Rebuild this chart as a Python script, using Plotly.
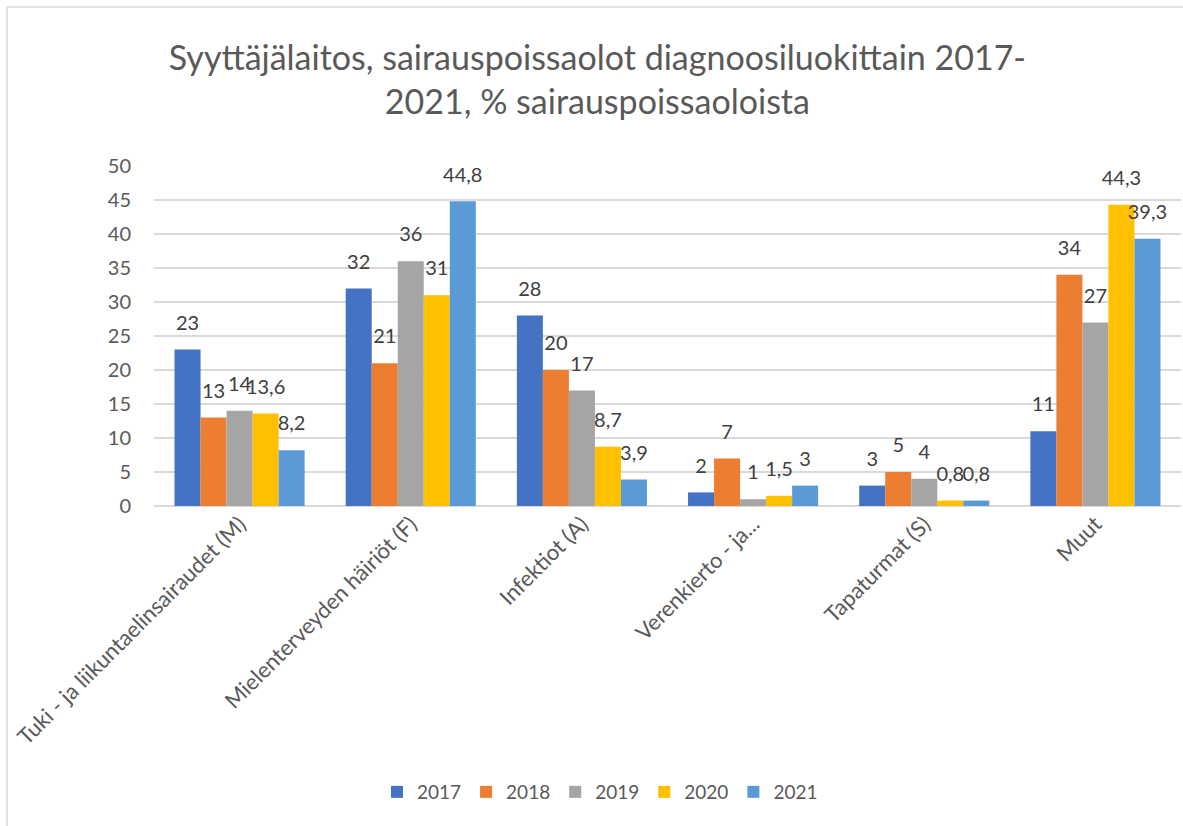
import plotly.graph_objects as go

categories = [
    "Tuki - ja liikuntaelinsairaudet (M)",
    "Mielenterveyden häiriöt (F)",
    "Infektiot (A)",
    "Verenkierto - ja...",
    "Tapaturmat (S)",
    "Muut",
]
years = ["2017", "2018", "2019", "2020", "2021"]
v2017 = [23, 32, 28, 2, 3, 11]
v2018 = [13, 21, 20, 7, 5, 34]
v2019 = [14, 36, 17, 1, 4, 27]
v2020 = [13.6, 31, 8.7, 1.5, 0.8, 44.3]
v2021 = [8.2, 44.8, 3.9, 3, 0.8, 39.3]
series = [v2017, v2018, v2019, v2020, v2021]
colors = ["#4472C4", "#ED7D31", "#A5A5A5", "#FFC000", "#5B9BD5"]

FONT = "Lato"
W, H = 1183, 826
L, R, T, B = 154, 2, 166, 320
GAP = 0.24

fig = go.Figure()
for name, vals, col in zip(years, series, colors):
    fig.add_trace(go.Bar(
        name=name, x=categories, y=vals, marker_color=col,
        marker_line_width=0, offsetgroup=name,
    ))
for name, vals in zip(years, series):
    fig.add_trace(go.Scatter(
        x=categories, y=vals, mode="markers+text", offsetgroup=name,
        text=[f"{v:g}".replace(".", ",") for v in vals],
        textposition="top center", cliponaxis=False, showlegend=False,
        marker=dict(size=22, opacity=0), hoverinfo="skip",
        textfont=dict(family=FONT, size=20, color="#404040"),
    ))

pw = W - L - R
ph = H - T - B

def px(x):
    return (x - L) / pw

def py(y):
    return (H - B - y) / ph

fig.update_layout(
    width=W, height=H,
    margin=dict(l=L, r=R, t=T, b=B, autoexpand=False),
    paper_bgcolor="white", plot_bgcolor="white",
    barmode="group", bargap=GAP, bargroupgap=0,
    scattermode="group", scattergap=GAP,
    font=dict(family=FONT, color="#595959"),
    title=dict(
        text="Syyttäjälaitos, sairauspoissaolot diagnoosiluokittain 2017-<br>2021, % sairauspoissaoloista",
        x=0.505, xanchor="center", y=1 - 70 / H, yanchor="top",
        font=dict(family=FONT, size=34, color="#595959"),
    ),
    legend=dict(
        orientation="h", x=px(600), xanchor="center", y=py(792), yanchor="middle",
        font=dict(family=FONT, size=19, color="#595959"),
        traceorder="normal",
    ),
    yaxis=dict(
        range=[0, 50], dtick=5, showgrid=True, gridcolor="#D9D9D9", gridwidth=1.5,
        zeroline=True, zerolinecolor="#D9D9D9", zerolinewidth=1.5,
        tickfont=dict(family=FONT, size=20, color="#595959"),
        ticks="", ticklabelstandoff=22, showline=False, fixedrange=True,
    ),
    xaxis=dict(
        tickangle=-45, tickfont=dict(family=FONT, size=22, color="#595959"),
        showline=False, ticks="", fixedrange=True,
    ),
    shapes=[
        dict(type="line", xref="paper", yref="paper",
             x0=px(7), x1=px(7), y0=py(7), y1=py(H + 5),
             line=dict(color="#D9D9D9", width=1.5)),
        dict(type="line", xref="paper", yref="paper",
             x0=px(7), x1=px(W + 5), y0=py(7), y1=py(7),
             line=dict(color="#D9D9D9", width=1.5)),
    ],
)

fig.write_html("out.html", config={"displayModeBar": False})

with open("out.html", encoding="utf-8") as f:
    html = f.read()
html = html.replace("<head>", "<head><style>html,body{margin:0;padding:0;overflow:hidden;}</style>", 1)
with open("out.html", "w", encoding="utf-8") as f:
    f.write(html)
